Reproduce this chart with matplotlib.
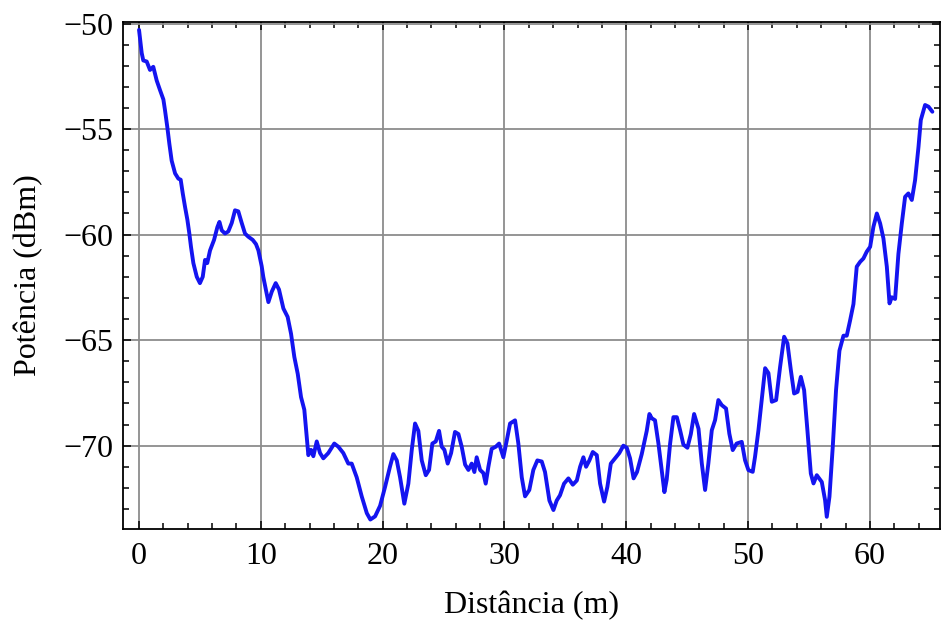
import numpy as np
import matplotlib
matplotlib.use("Agg")
import matplotlib.pyplot as plt
from matplotlib.ticker import MultipleLocator

# values
distancia_m = [
    0.0, 0.22, 0.35, 0.63, 0.9, 1.17, 1.45, 1.72, 2.0, 2.13, 2.32, 2.49, 2.68, 2.96,
    3.23, 3.42, 3.59, 3.78, 3.97, 4.13, 4.27, 4.46, 4.74, 5.0, 5.23, 5.42, 5.6, 5.83,
    6.16, 6.43, 6.6, 6.79, 7.06, 7.33, 7.61, 7.88, 8.15, 8.43, 8.7, 8.97, 9.33, 9.6,
    9.8, 10.07, 10.2, 10.45, 10.62, 10.9, 11.22, 11.49, 11.85, 12.2, 12.48, 12.75,
    13.03, 13.3, 13.57, 13.77, 13.9, 14.12, 14.31, 14.59, 14.86, 15.13, 15.54, 16.03,
    16.36, 16.77, 17.18, 17.46, 17.87, 18.28, 18.7, 18.99, 19.38, 19.79, 20.2, 20.6,
    20.88, 21.16, 21.43, 21.78, 22.11, 22.39, 22.66, 22.93, 23.21, 23.54, 23.81, 24.08,
    24.36, 24.63, 24.85, 25.07, 25.34, 25.62, 25.94, 26.22, 26.49, 26.77, 27.04, 27.31,
    27.53, 27.72, 28.0, 28.27, 28.46, 28.68, 28.95, 29.29, 29.56, 29.91, 30.19, 30.46,
    30.87, 31.14, 31.42, 31.69, 32.04, 32.37, 32.7, 33.06, 33.33, 33.69, 34.02, 34.29,
    34.56, 34.89, 35.25, 35.61, 35.94, 36.21, 36.48, 36.7, 36.97, 37.25, 37.58, 37.85,
    38.18, 38.45, 38.73, 39.08, 39.43, 39.76, 40.04, 40.31, 40.6, 40.88, 41.27, 41.68,
    41.9, 42.09, 42.36, 42.64, 42.91, 43.13, 43.32, 43.6, 43.87, 44.15, 44.42, 44.69,
    45.02, 45.3, 45.57, 45.93, 46.2, 46.47, 46.74, 47.02, 47.29, 47.56, 47.84, 48.19,
    48.46, 48.74, 49.06, 49.48, 49.75, 50.03, 50.38, 50.57, 50.85, 51.12, 51.4, 51.67,
    51.95, 52.3, 52.63, 52.96, 53.23, 53.51, 53.78, 54.06, 54.33, 54.6, 54.87, 55.15,
    55.37, 55.64, 56.05, 56.32, 56.46, 56.68, 56.95, 57.22, 57.5, 57.83, 58.1, 58.37,
    58.65, 58.92, 59.2, 59.47, 59.74, 60.02, 60.29, 60.57, 60.84, 61.11, 61.39, 61.61,
    61.8, 62.07, 62.34, 62.62, 62.89, 63.16, 63.44, 63.71, 63.99, 64.18, 64.53, 64.81,
    65.13,
]
potencia_dbm = [
    -50.3, -51.4, -51.75, -51.8, -52.2, -52.05, -52.7, -53.15, -53.6, -54.1, -54.9,
    -55.7, -56.5, -57.1, -57.35, -57.4, -58.05, -58.7, -59.3, -59.95, -60.6, -61.35,
    -62.0, -62.3, -62.0, -61.2, -61.35, -60.75, -60.25, -59.65, -59.4, -59.8, -59.95,
    -59.85, -59.45, -58.85, -58.9, -59.45, -59.95, -60.1, -60.25, -60.45, -60.75,
    -61.5, -62.0, -62.7, -63.2, -62.7, -62.3, -62.6, -63.5, -63.9, -64.7, -65.8,
    -66.6, -67.7, -68.3, -69.6, -70.45, -70.2, -70.5, -69.8, -70.35, -70.6, -70.35,
    -69.9, -70.05, -70.35, -70.85, -70.85, -71.5, -72.4, -73.2, -73.5, -73.35,
    -72.85, -71.95, -71.0, -70.4, -70.7, -71.5, -72.75, -71.8, -70.2, -68.95, -69.3,
    -70.7, -71.4, -71.15, -69.9, -69.8, -69.3, -70.05, -70.2, -70.85, -70.35, -69.35,
    -69.45, -70.05, -70.9, -71.15, -70.85, -71.25, -70.55, -71.15, -71.3, -71.8,
    -71.0, -70.15, -70.05, -69.9, -70.55, -69.75, -68.95, -68.8, -69.9, -71.5, -72.4,
    -72.1, -71.15, -70.7, -70.75, -71.25, -72.6, -73.05, -72.6, -72.35, -71.8, -71.55,
    -71.85, -71.65, -71.0, -70.55, -71.0, -70.7, -70.3, -70.45, -71.8, -72.65, -71.95,
    -70.85, -70.6, -70.35, -70.0, -70.1, -70.6, -71.55, -71.25, -70.4, -69.3, -68.5,
    -68.7, -68.8, -69.9, -71.15, -72.2, -71.6, -69.9, -68.65, -68.65, -69.27, -69.95,
    -70.1, -69.45, -68.5, -69.2, -70.84, -72.1, -70.84, -69.27, -68.79, -67.84, -68.08,
    -68.24, -69.43, -70.21, -69.9, -69.82, -70.69, -71.16, -71.24, -70.53, -69.27,
    -67.84, -66.33, -66.56, -67.92, -67.84, -66.26, -64.84, -65.15, -66.42, -67.53,
    -67.45, -66.74, -67.37, -69.27, -71.32, -71.79, -71.4, -71.72, -72.58, -73.37,
    -72.42, -70.06, -67.37, -65.5, -64.79, -64.79, -64.08, -63.29, -61.52, -61.29,
    -61.13, -60.81, -60.58, -59.63, -59.0, -59.47, -60.18, -61.52, -63.26, -62.97,
    -63.05, -60.92, -59.47, -58.21, -58.05, -58.36, -57.42, -55.84, -54.57, -53.86,
    -53.94, -54.18,
]

x_ticks = [0, 10, 20, 30, 40, 50, 60]
y_ticks = [-70, -65, -60, -55, -50]

plt.rcParams["font.family"] = ["Liberation Serif", "DejaVu Serif"]

fig = plt.figure(figsize=(9.41, 6.28), dpi=100)
ax = fig.add_axes([0.1304, 0.1576, 0.8686, 0.8073])

ax.plot(distancia_m, potencia_dbm, color="#1414f0", lw=2.8,
        solid_joinstyle="round", solid_capstyle="round")

ax.set_xlim(-1.34, 65.76)
ax.set_ylim(-73.95, -49.93)
ax.set_xticks(x_ticks)
ax.set_yticks(y_ticks)
ax.xaxis.set_minor_locator(MultipleLocator(2))
ax.yaxis.set_minor_locator(MultipleLocator(1))

ax.grid(True, which="major", color="#8c8c8c", lw=1.3)
ax.set_axisbelow(True)

for s in ax.spines.values():
    s.set_linewidth(1.3)
ax.tick_params(which="both", direction="in", top=True, right=True,
               width=1.1, labelsize=23)
ax.tick_params(which="major", length=6)
ax.tick_params(which="minor", length=4)
ax.tick_params(axis="x", pad=9)
ax.tick_params(axis="y", pad=7)

ax.set_xlabel("Distância (m)", fontsize=23, labelpad=15)
ax.set_ylabel("Potência (dBm)", fontsize=23, labelpad=14)

fig.savefig("out.png", dpi=100)
